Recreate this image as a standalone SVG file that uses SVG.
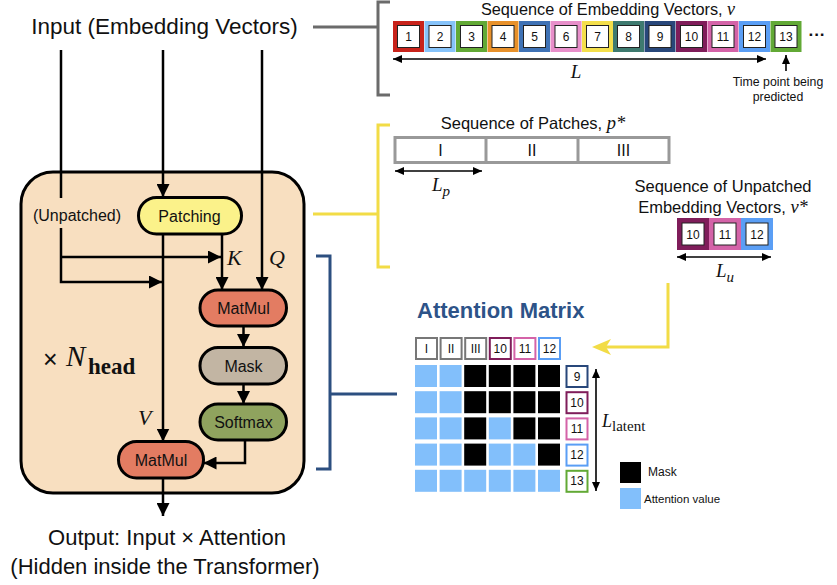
<svg xmlns="http://www.w3.org/2000/svg" width="837" height="585" viewBox="0 0 837 585">
  <defs>
    <style>
      .t{font-family:"Liberation Sans",Arial,sans-serif;fill:#111}
      .m{font-family:"Liberation Serif","Times New Roman",serif;font-style:italic;fill:#111}
      .ln{stroke:#000;stroke-width:2.5;fill:none}
      .thin{stroke:#000;stroke-width:1.6;fill:none}
      .pill{stroke:#000;stroke-width:3}
      .pt{font-family:"Liberation Sans",Arial,sans-serif;font-size:16px;fill:#111;text-anchor:middle}
      .inner{fill:#fff;stroke:#222;stroke-width:1}
      .hd{fill:#fff;stroke-width:2}
      .blue{fill:#82bffb}
      .blk{fill:#000}
      .num{font-family:"Liberation Sans",Arial,sans-serif;font-size:12px;fill:#111;text-anchor:middle}
    </style>
    <marker id="ah" viewBox="0 0 13 13" refX="13" refY="6.5" markerWidth="13" markerHeight="13" markerUnits="userSpaceOnUse" orient="auto">
      <path d="M0,0 L13,6.5 L0,13 z" fill="#000"/>
    </marker>
    <marker id="sa" viewBox="0 0 9 8" refX="9" refY="4" markerWidth="9" markerHeight="8" markerUnits="userSpaceOnUse" orient="auto-start-reverse">
      <path d="M0,0 L9,4 L0,8 z" fill="#000"/>
    </marker>
  </defs>

  <rect width="837" height="585" fill="#fff"/>

  <!-- attention head container -->
  <g id="head-block">
    <rect x="21" y="172" width="283" height="321" rx="32" fill="#f8dfc0" stroke="#000" stroke-width="3"/>
    <text class="t" x="43" y="368" font-size="25">×</text>
    <text class="m" x="66" y="366" font-size="29">N</text>
    <text x="88" y="374" font-size="23" font-weight="bold" font-family="Liberation Serif,'Times New Roman',serif" fill="#111">head</text>
  </g>

  <!-- input / output captions -->
  <g id="input-label">
    <text class="t" x="164.5" y="34" font-size="22.5" text-anchor="middle">Input (Embedding Vectors)</text>
  </g>
  <g id="output-label">
    <text class="t" x="167" y="545" font-size="22" text-anchor="middle">Output: Input × Attention</text>
    <text class="t" x="165" y="574" font-size="22" text-anchor="middle">(Hidden inside the Transformer)</text>
  </g>
  <g id="unpatched-label">
    <text class="t" x="77" y="221" font-size="16" text-anchor="middle">(Unpatched)</text>
  </g>

  <!-- connectors inside the head -->
  <g id="connectors">
    <path class="ln" d="M61,50 V198"/>
    <path class="ln" d="M61,228 V282 H162" marker-end="url(#ah)"/>
    <path class="ln" d="M61,257 H221" marker-end="url(#ah)"/>
    <path class="ln" d="M163,50 V197" marker-end="url(#ah)"/>
    <path class="ln" d="M163,234 V441.5" marker-end="url(#ah)"/>
    <path class="ln" d="M222,234 V290" marker-end="url(#ah)"/>
    <path class="ln" d="M262,50 V290" marker-end="url(#ah)"/>
    <path class="ln" d="M243.5,326 V347" marker-end="url(#ah)"/>
    <path class="ln" d="M243.5,384 V404" marker-end="url(#ah)"/>
    <path class="ln" d="M245,440 V463 H203.5" marker-end="url(#ah)"/>
    <path class="ln" d="M163,478 V516" marker-end="url(#ah)"/>
    <text class="m" x="227" y="265" font-size="22">K</text>
    <text class="m" x="269" y="265" font-size="22">Q</text>
    <text class="m" x="138" y="425" font-size="22">V</text>
  </g>

  <g id="patching">
    <rect class="pill" x="138.5" y="197.5" width="103" height="36.5" rx="18" fill="#fbf28a"/>
    <text class="pt" x="189.5" y="221.5" font-size="16.5">Patching</text>
  </g>
  <g id="matmul-qk">
    <rect class="pill" x="200" y="290" width="86.5" height="36" rx="18" fill="#e37c62"/>
    <text class="pt" x="243.5" y="313.8">MatMul</text>
  </g>
  <g id="mask">
    <rect class="pill" x="200" y="347.5" width="86.5" height="36.5" rx="18" fill="#c2b5a3"/>
    <text class="pt" x="243.5" y="371.5">Mask</text>
  </g>
  <g id="softmax">
    <rect class="pill" x="200" y="404" width="86.5" height="36" rx="18" fill="#8fa35e"/>
    <text class="pt" x="243.5" y="427.8">Softmax</text>
  </g>
  <g id="matmul-v">
    <rect class="pill" x="118.5" y="441.5" width="85" height="36.5" rx="18" fill="#e37c62"/>
    <text class="pt" x="161" y="465.5">MatMul</text>
  </g>

  <!-- brackets linking the head to the side panels -->
  <g id="brackets">
    <path d="M313,27 H378 M390,2 H378 V95 H390" fill="none" stroke="#6b6b6b" stroke-width="3"/>
    <path d="M313,214 H378 M390,125 H378 V267 H390" fill="none" stroke="#f2dc46" stroke-width="3"/>
    <path d="M316,256 H330 V469 H316 M330,394 H397" fill="none" stroke="#2c4f80" stroke-width="3"/>
    <path d="M668,283 V347 H606" fill="none" stroke="#f2dc46" stroke-width="3"/>
    <path d="M592,347 L611,339 L606,347 L611,355 z" fill="#f2dc46"/>
  </g>

  <!-- full embedding sequence -->
  <g id="embedding-sequence">
    <text class="t" x="608" y="15" font-size="16.3" text-anchor="middle">Sequence of Embedding Vectors, <tspan class="m" font-size="18">v</tspan></text>
    <rect x="393" y="21" width="31" height="31" fill="#c8231b"/>
    <rect x="424.5" y="21" width="31" height="31" fill="#86c3fa"/>
    <rect x="456" y="21" width="31" height="31" fill="#62a935"/>
    <rect x="487.5" y="21" width="31" height="31" fill="#e8912a"/>
    <rect x="519" y="21" width="31" height="31" fill="#3f72b5"/>
    <rect x="550.5" y="21" width="31" height="31" fill="#e88fca"/>
    <rect x="582" y="21" width="31" height="31" fill="#f4df4b"/>
    <rect x="613" y="21" width="31" height="31" fill="#3e7a6f"/>
    <rect x="644.5" y="21" width="31" height="31" fill="#28477a"/>
    <rect x="676" y="21" width="31" height="31" fill="#7f1d5a"/>
    <rect x="707.5" y="21" width="31" height="31" fill="#d463a8"/>
    <rect x="739" y="21" width="31" height="31" fill="#5a9ef5"/>
    <rect x="770.5" y="21" width="31" height="31" fill="#62a935"/>
    <g class="inner">
      <rect x="397.5" y="25.5" width="22" height="22"/>
      <rect x="429" y="25.5" width="22" height="22"/>
      <rect x="460.5" y="25.5" width="22" height="22"/>
      <rect x="492" y="25.5" width="22" height="22"/>
      <rect x="523.5" y="25.5" width="22" height="22"/>
      <rect x="555" y="25.5" width="22" height="22"/>
      <rect x="586.5" y="25.5" width="22" height="22"/>
      <rect x="617.5" y="25.5" width="22" height="22"/>
      <rect x="649" y="25.5" width="22" height="22"/>
      <rect x="680.5" y="25.5" width="22" height="22"/>
      <rect x="712" y="25.5" width="22" height="22"/>
      <rect x="743.5" y="25.5" width="22" height="22"/>
      <rect x="775" y="25.5" width="22" height="22"/>
    </g>
    <text class="num" y="41">
      <tspan x="408.5">1</tspan><tspan x="440">2</tspan><tspan x="471.5">3</tspan><tspan x="503">4</tspan><tspan x="534.5">5</tspan><tspan x="566">6</tspan><tspan x="597.5">7</tspan><tspan x="628.5">8</tspan><tspan x="660">9</tspan><tspan x="691.5">10</tspan><tspan x="723">11</tspan><tspan x="754.5">12</tspan><tspan x="786">13</tspan>
    </text>
    <text class="t" x="817" y="40" font-size="17" font-weight="bold" text-anchor="middle">···</text>
    <path class="thin" d="M393,59 H766" marker-start="url(#sa)" marker-end="url(#sa)"/>
    <text class="m" x="576" y="78" font-size="19" text-anchor="middle">L</text>
    <path class="thin" d="M786,71 V55" marker-end="url(#sa)"/>
    <text class="t" x="778" y="85.5" font-size="12.3" text-anchor="middle">Time point being</text>
    <text class="t" x="778" y="100.5" font-size="12.3" text-anchor="middle">predicted</text>
  </g>

  <!-- patched sequence -->
  <g id="patch-sequence">
    <text class="t" x="533" y="129" font-size="16.5" text-anchor="middle">Sequence of Patches, <tspan class="m" font-size="18.5">p*</tspan></text>
    <rect x="395" y="137.5" width="274" height="25" fill="#fff" stroke="#999" stroke-width="3"/>
    <path d="M486,137.5 V162.5 M578,137.5 V162.5" stroke="#999" stroke-width="3"/>
    <text class="t" x="440.5" y="155.5" font-size="16" text-anchor="middle">I</text>
    <text class="t" x="532" y="155.5" font-size="16" text-anchor="middle">II</text>
    <text class="t" x="623.5" y="155.5" font-size="16" text-anchor="middle">III</text>
    <path class="thin" d="M395,171 H482" marker-start="url(#sa)" marker-end="url(#sa)"/>
    <text class="m" x="432" y="191" font-size="19">L<tspan font-size="15" dy="5">p</tspan></text>
  </g>

  <!-- unpatched vectors -->
  <g id="unpatched-sequence">
    <text class="t" x="723" y="191.5" font-size="16.5" text-anchor="middle">Sequence of Unpatched</text>
    <text class="t" x="723" y="212.5" font-size="16.5" text-anchor="middle">Embedding Vectors, <tspan class="m" font-size="18.5">v*</tspan></text>
    <rect x="677" y="218" width="32" height="32" fill="#7f1d5a"/>
    <rect x="709" y="218" width="32" height="32" fill="#d463a8"/>
    <rect x="741" y="218" width="32" height="32" fill="#5a9ef5"/>
    <g class="inner">
      <rect x="682" y="223" width="22" height="22"/>
      <rect x="714" y="223" width="22" height="22"/>
      <rect x="746" y="223" width="22" height="22"/>
    </g>
    <text class="num" y="238.5"><tspan x="693">10</tspan><tspan x="725">11</tspan><tspan x="757">12</tspan></text>
    <path class="thin" d="M677,257 H771" marker-start="url(#sa)" marker-end="url(#sa)"/>
    <text class="m" x="716" y="277" font-size="19">L<tspan font-size="15" dy="5">u</tspan></text>
  </g>

  <!-- attention matrix -->
  <g id="attention-matrix">
    <text x="417" y="318" font-size="22" font-weight="bold" font-family="'Liberation Sans',Arial,sans-serif" fill="#2d5388">Attention Matrix</text>
    <rect class="hd" x="416" y="338" width="21" height="21" stroke="#777"/>
    <rect class="hd" x="440.6" y="338" width="21" height="21" stroke="#777"/>
    <rect class="hd" x="465.2" y="338" width="21" height="21" stroke="#777"/>
    <rect class="hd" x="489.8" y="338" width="21" height="21" stroke="#7f1d5a"/>
    <rect class="hd" x="514.4" y="338" width="21" height="21" stroke="#d463a8"/>
    <rect class="hd" x="539" y="338" width="21" height="21" stroke="#5a9ef5"/>
    <text class="num" y="352.5"><tspan x="426.5">I</tspan><tspan x="451.1">II</tspan><tspan x="475.7">III</tspan><tspan x="500.3">10</tspan><tspan x="524.9">11</tspan><tspan x="549.5">12</tspan></text>

    <g class="blue">
      <rect x="415" y="365" width="22" height="22"/><rect x="439.6" y="365" width="22" height="22"/>
      <rect x="415" y="391.2" width="22" height="22"/><rect x="439.6" y="391.2" width="22" height="22"/>
      <rect x="415" y="417.4" width="22" height="22"/><rect x="439.6" y="417.4" width="22" height="22"/><rect x="488.8" y="417.4" width="22" height="22"/>
      <rect x="415" y="443.6" width="22" height="22"/><rect x="439.6" y="443.6" width="22" height="22"/><rect x="488.8" y="443.6" width="22" height="22"/><rect x="513.4" y="443.6" width="22" height="22"/>
      <rect x="415" y="469.8" width="22" height="22"/><rect x="439.6" y="469.8" width="22" height="22"/><rect x="464.2" y="469.8" width="22" height="22"/><rect x="488.8" y="469.8" width="22" height="22"/><rect x="513.4" y="469.8" width="22" height="22"/><rect x="538" y="469.8" width="22" height="22"/>
    </g>
    <g class="blk">
      <rect x="464.2" y="365" width="22" height="22"/><rect x="488.8" y="365" width="22" height="22"/><rect x="513.4" y="365" width="22" height="22"/><rect x="538" y="365" width="22" height="22"/>
      <rect x="464.2" y="391.2" width="22" height="22"/><rect x="488.8" y="391.2" width="22" height="22"/><rect x="513.4" y="391.2" width="22" height="22"/><rect x="538" y="391.2" width="22" height="22"/>
      <rect x="464.2" y="417.4" width="22" height="22"/><rect x="513.4" y="417.4" width="22" height="22"/><rect x="538" y="417.4" width="22" height="22"/>
      <rect x="464.2" y="443.6" width="22" height="22"/><rect x="538" y="443.6" width="22" height="22"/>
    </g>

    <rect class="hd" x="566.5" y="366" width="21" height="21" stroke="#28477a"/>
    <rect class="hd" x="566.5" y="392.2" width="21" height="21" stroke="#7f1d5a"/>
    <rect class="hd" x="566.5" y="418.4" width="21" height="21" stroke="#d463a8"/>
    <rect class="hd" x="566.5" y="444.6" width="21" height="21" stroke="#5a9ef5"/>
    <rect class="hd" x="566.5" y="470.8" width="21" height="21" stroke="#62a935"/>
    <text class="num"><tspan x="577" y="380.5">9</tspan><tspan x="577" y="406.7">10</tspan><tspan x="577" y="432.9">11</tspan><tspan x="577" y="459.1">12</tspan><tspan x="577" y="485.3">13</tspan></text>

    <path class="thin" d="M596,369 V491" marker-start="url(#sa)" marker-end="url(#sa)"/>
    <text class="m" x="602" y="427" font-size="18">L<tspan font-style="normal" font-size="15" dy="4">latent</tspan></text>

    <rect x="620" y="462" width="21" height="21" fill="#000"/>
    <text class="t" x="648" y="476" font-size="12">Mask</text>
    <rect x="620" y="488" width="21" height="21" fill="#82bffb"/>
    <text class="t" x="644" y="502.5" font-size="11.5">Attention value</text>
  </g>
</svg>
